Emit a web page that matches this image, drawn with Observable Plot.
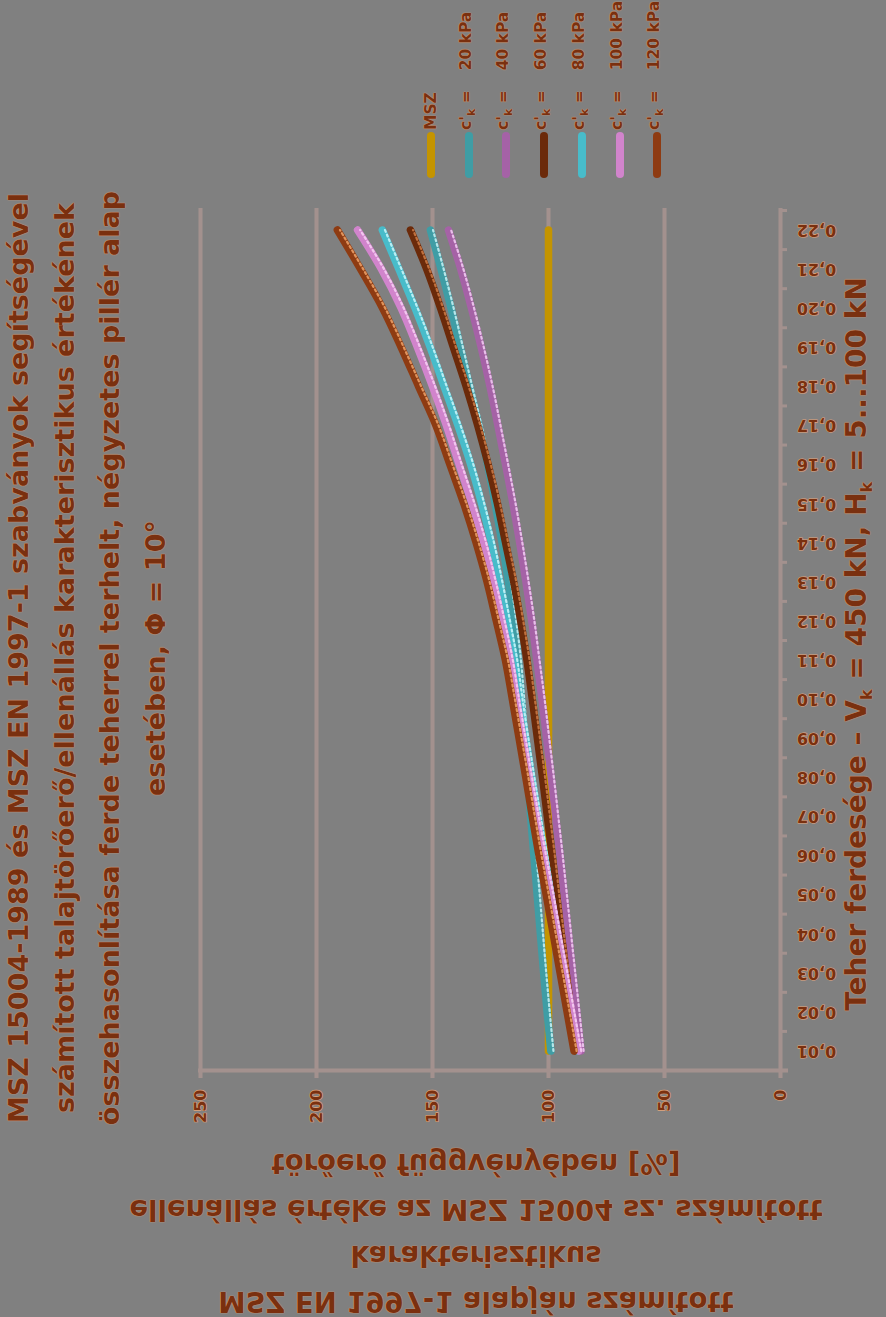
<!DOCTYPE html>
<html><head><meta charset="utf-8">
<script src="https://cdn.jsdelivr.net/npm/d3@7"></script>
<script src="https://cdn.jsdelivr.net/npm/@observablehq/plot@0.6"></script>
<style>
html,body{margin:0;padding:0;background:#808080;}
#wrap{position:relative;width:886px;height:1317px;overflow:hidden;background:#808080;font-family:"DejaVu Sans",sans-serif;font-weight:bold;color:#7a300f;}
#wrap svg{position:absolute;left:0;top:0;}
.t{position:absolute;white-space:nowrap;text-shadow:0 0 1px #e3a57a, 0 0 1px #e3a57a;}
.sw{position:absolute;width:8px;border-radius:4px;}
</style></head><body><div id="wrap"></div>
<script>
// ---- data ----
const tanLabels = ["0,01","0,02","0,03","0,04","0,05","0,06","0,07","0,08","0,09","0,10","0,11",
                   "0,12","0,13","0,14","0,15","0,16","0,17","0,18","0,19","0,20","0,21","0,22"];
const valueTicks = [0, 50, 100, 150, 200, 250];
const seriesNames = ["MSZ","c'k = 20 kPa","c'k = 40 kPa","c'k = 60 kPa","c'k = 80 kPa","c'k = 100 kPa","c'k = 120 kPa"];
const cohesionKPa = [null, 20, 40, 60, 80, 100, 120];
const seriesColors = ["#c49400","#3f9da5","#a562a6","#6b2a0a","#48bcca","#d184cc","#8e3b12"];
const seriesHighlights = [null,"#b5e6ea","#e8bfe9","#c0703e","#b9eef4","#f2c6ef","#e0935c"];
const mszValues  = [100,100,100,100,100,100,100,100,100,100,100,100,100,100,100,100,100,100,100,100,100,100];
const c20Values  = [99,100.6,102.1,103.5,104.9,106.3,107.7,109,110.3,111.6,113,115,117.3,120,123,126.3,130,134,138,142,146.3,150.9];
const c40Values  = [86,87.8,89.6,91.4,93.2,95,96.9,98.8,100.8,102.8,105,107.2,109.7,112.4,115.3,118.5,121.8,125.2,129,133.2,137.8,143.1];
const c60Values  = [88.2,90.3,92.4,94.5,96.5,98.4,100.5,102.6,104.8,107,109.3,112,115,118.5,122,126,130.5,135.5,141,146.5,152.5,159.5];
const c80Values  = [87.5,90.5,93.5,96.3,99,101.7,104.5,107.2,109.8,112.3,114.6,117.7,121,124.6,128.8,133.5,139,145,151,157.5,164.5,171.6];
const c100Values = [87,90,93,96,99,102.2,105.3,108.2,111,113.8,116.5,120,123.8,128,133,138.5,144,150,156.5,163.5,172,182.3];
const c120Values = [89,92,95,98,101,104.1,107,109.8,112.7,115.6,118.6,122.5,126.5,131.2,136.5,142.5,148.5,156,163.5,171.5,181,191];
const seriesValues = [mszValues,c20Values,c40Values,c60Values,c80Values,c100Values,c120Values];

const textColor = "#7a300f", halo = "#e2a57c", grid = "#a3918e";

// table
const rows = [];
seriesNames.forEach((s, k) => seriesValues[k].forEach((v, i) => rows.push({series: s, k, i: i + 1, v})));
const boundaries = d3.range(0.5, tanLabels.length + 1, 1);

const lineMarks = [];
seriesNames.forEach((s, k) => {
  const d = rows.filter(r => r.k === k);
  lineMarks.push(Plot.line(d, {x: "v", y: "i", stroke: seriesColors[k], strokeWidth: 7.5, curve: "catmull-rom", strokeLinecap: "round"}));
  if (seriesHighlights[k]) lineMarks.push(Plot.line(d, {x: "v", y: "i", stroke: seriesHighlights[k], strokeWidth: 2.2, strokeDasharray: "2,3", dx: 2.6, curve: "catmull-rom"}));
});

const chart = Plot.plot({
  width: 886, height: 1317,
  marginLeft: 200, marginRight: 106, marginTop: 210, marginBottom: 247,
  style: {background: "#808080", fontFamily: "DejaVu Sans", fontWeight: "bold", fontSize: "16px", color: textColor, overflow: "visible"},
  x: {domain: [0, 250], reverse: true, axis: null},
  y: {domain: [0.5, 22.5], axis: null},
  marks: [
    Plot.ruleX(valueTicks, {stroke: grid, strokeWidth: 4, insetBottom: -8, insetTop: -2}),
    Plot.ruleY([0.5], {stroke: grid, strokeWidth: 4, insetRight: -8, insetLeft: -2}),
    Plot.ruleY(boundaries, {x1: 0, x2: 0, insetRight: -7, stroke: grid, strokeWidth: 3}),
    Plot.text(valueTicks, {x: d => d, frameAnchor: "bottom", dy: 19, rotate: -90, textAnchor: "end", lineAnchor: "middle",
      text: d => String(d), fill: textColor, stroke: halo, strokeWidth: 1.2, fontSize: 16}),
    Plot.text(tanLabels, {y: (d, i) => i + 1, frameAnchor: "right", dx: 36, rotate: 180, textAnchor: "middle", lineAnchor: "middle",
      text: d => d, fill: textColor, stroke: halo, strokeWidth: 1.2, fontSize: 16}),
    ...lineMarks
  ]
});
const wrap = document.getElementById("wrap");
wrap.appendChild(chart);

function addText(html, css) {
  const el = document.createElement("div");
  el.className = "t";
  el.innerHTML = html;
  Object.assign(el.style, css);
  wrap.appendChild(el);
  return el;
}

// main title (rotated CCW)
addText("MSZ 15004-1989 és MSZ EN 1997-1 szabványok segítségével<br>számított talajtörőerő/ellenállás karakterisztikus értékének<br>összehasonlítása ferde teherrel terhelt, négyzetes pillér alap<br>esetében, Φ = 10°",
  {left: "87px", top: "658px", fontSize: "27px", lineHeight: "45.5px", textAlign: "center", transform: "translate(-50%,-50%) rotate(-90deg)"});

// x (category) axis title, right side
addText("Teher ferdesége – V<sub style='font-size:16px'>k</sub> = 450 kN, H<sub style='font-size:16px'>k</sub> = 5...100 kN",
  {left: "862px", top: "644px", fontSize: "28px", lineHeight: "30px", textAlign: "center", transform: "translate(-50%,-50%) rotate(-90deg)"});

// value axis title, bottom, vertically mirrored
addText("MSZ EN 1997-1 alapján számított<br>karakterisztikus<br>ellenállás értéke az MSZ 15004 sz. számított<br>törőerő függvényében [%]",
  {left: "476px", top: "1233px", fontSize: "27.5px", lineHeight: "46px", textAlign: "center", transform: "translate(-50%,-50%) scaleY(-1)"});

// legend
seriesNames.forEach((s, k) => {
  const cx = 431 + k * 37.7;
  const sw = document.createElement("div");
  sw.className = "sw";
  Object.assign(sw.style, {left: (cx - 4) + "px", top: "132px", height: "46px", background: seriesColors[k]});
  wrap.appendChild(sw);
  const html = cohesionKPa[k] == null ? s
    : "c'<sub style='font-size:11px'>k</sub> =<span style='margin-left:20px'>" + cohesionKPa[k] + " kPa</span>";
  addText(html, {left: cx + "px", top: "130px", fontSize: "15.5px", lineHeight: "18px", transformOrigin: "0 0", transform: "rotate(-90deg) translateY(-50%)"});
});
</script></body></html>
